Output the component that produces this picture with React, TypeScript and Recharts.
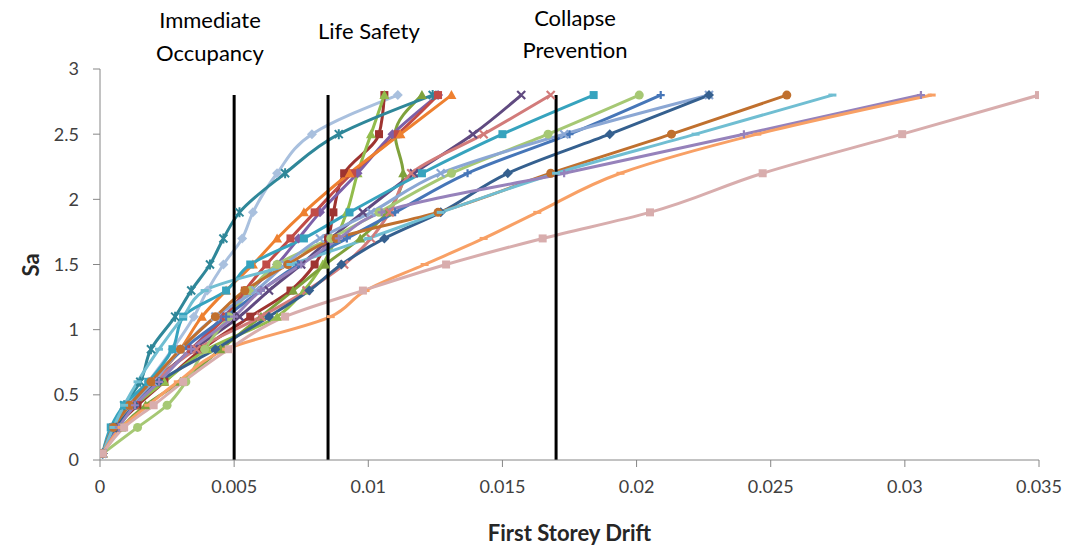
import React from 'react';
import { LineChart, Line, XAxis, YAxis, ReferenceLine } from 'recharts';

document.body.style.margin = '0';

// Sa levels used by every IDA run
const saLevels = [0.05, 0.25, 0.42, 0.6, 0.85, 1.1, 1.3, 1.5, 1.7, 1.9, 2.2, 2.5, 2.8];

// first storey drift of each run at the Sa levels above
const runA = [0.0001, 0.0006, 0.0011, 0.0018, 0.0027, 0.0035, 0.004, 0.0046, 0.0053, 0.0057, 0.0066, 0.0079, 0.0111];
const runB = [0.0001, 0.0006, 0.0014, 0.0024, 0.0038, 0.0056, 0.0071, 0.008, 0.0085, 0.0087, 0.0091, 0.0104, 0.0106];
const runC = [0.0001, 0.0005, 0.0013, 0.0024, 0.004, 0.0066, 0.0076, 0.0083, 0.0088, 0.0092, 0.0096, 0.0101, 0.0106];
const runD = [0.0001, 0.0008, 0.0017, 0.003, 0.0045, 0.006, 0.0072, 0.0084, 0.0097, 0.0107, 0.0113, 0.011, 0.012];
const runE = [0.0001, 0.0005, 0.0009, 0.0015, 0.0019, 0.0028, 0.0034, 0.0041, 0.0046, 0.0052, 0.0069, 0.0089, 0.0124];
const runF = [0.0001, 0.0006, 0.0012, 0.0021, 0.0034, 0.0046, 0.0056, 0.0066, 0.0074, 0.0082, 0.0096, 0.0109, 0.0126];
const runG = [0.0001, 0.0006, 0.0013, 0.0021, 0.0034, 0.0047, 0.0054, 0.0062, 0.0071, 0.008, 0.0094, 0.0111, 0.0126];
const runH = [0.0001, 0.0006, 0.0012, 0.002, 0.003, 0.0038, 0.0047, 0.0057, 0.0066, 0.0076, 0.0093, 0.0112, 0.0131];
const runI = [0.0001, 0.0006, 0.0012, 0.002, 0.0035, 0.0052, 0.0063, 0.0075, 0.0086, 0.0098, 0.0117, 0.0139, 0.0157];
const runJ = [0.0001, 0.0005, 0.0011, 0.002, 0.0036, 0.006, 0.0077, 0.0091, 0.0101, 0.0108, 0.0116, 0.0143, 0.0168];
const runK = [0.0001, 0.0004, 0.0009, 0.0018, 0.0027, 0.0031, 0.0047, 0.0056, 0.0076, 0.0093, 0.012, 0.015, 0.0184];
const runL = [0.0001, 0.0014, 0.0025, 0.0032, 0.0039, 0.0048, 0.0056, 0.0066, 0.0086, 0.0104, 0.0131, 0.0167, 0.0201];
const runM = [0.0001, 0.0005, 0.0011, 0.0019, 0.0031, 0.0047, 0.006, 0.0074, 0.0092, 0.011, 0.0137, 0.0175, 0.0209];
const runN = [0.0001, 0.0006, 0.0012, 0.002, 0.003, 0.0043, 0.0058, 0.0069, 0.0082, 0.0101, 0.0127, 0.0173, 0.0227];
const runO = [0.0001, 0.0006, 0.0013, 0.0022, 0.0043, 0.0063, 0.0078, 0.009, 0.0106, 0.0127, 0.0152, 0.019, 0.0227];
const runP = [0.0001, 0.0005, 0.0011, 0.0019, 0.003, 0.0043, 0.0054, 0.007, 0.0088, 0.0126, 0.0168, 0.0213, 0.0256];
const runQ = [0.0001, 0.0005, 0.0009, 0.0014, 0.0022, 0.0031, 0.0039, 0.0071, 0.01, 0.0127, 0.017, 0.0222, 0.0273];
const runR = [0.0001, 0.0007, 0.0013, 0.0022, 0.0034, 0.005, 0.006, 0.0075, 0.0089, 0.0105, 0.0173, 0.024, 0.0306];
const runS = [0.0001, 0.0008, 0.0018, 0.0029, 0.0047, 0.0086, 0.0099, 0.0121, 0.0143, 0.0163, 0.0194, 0.0245, 0.031];
const runT = [0.0001, 0.0009, 0.002, 0.0031, 0.0048, 0.0069, 0.0098, 0.0129, 0.0165, 0.0205, 0.0247, 0.0299, 0.035];

const xTicks = [0, 0.005, 0.01, 0.015, 0.02, 0.025, 0.03, 0.035];
const yTicks = [0, 0.5, 1, 1.5, 2, 2.5, 3];

// performance limits (drift)
const limits = [0.005, 0.0085, 0.017];

const runs = [
  { name: 'A', drift: runA, color: '#A9C0DE', marker: 'diamond' },
  { name: 'B', drift: runB, color: '#9E3430', marker: 'square' },
  { name: 'C', drift: runC, color: '#92BC4C', marker: 'triangle' },
  { name: 'D', drift: runD, color: '#7FA23C', marker: 'triangle' },
  { name: 'E', drift: runE, color: '#2F8799', marker: 'star' },
  { name: 'F', drift: runF, color: '#7D60A8', marker: 'diamond' },
  { name: 'G', drift: runG, color: '#C14B47', marker: 'square' },
  { name: 'H', drift: runH, color: '#EE8030', marker: 'triangle' },
  { name: 'I', drift: runI, color: '#604A80', marker: 'x' },
  { name: 'J', drift: runJ, color: '#D27B7A', marker: 'x' },
  { name: 'K', drift: runK, color: '#36A3BE', marker: 'square' },
  { name: 'L', drift: runL, color: '#A6C874', marker: 'circle' },
  { name: 'M', drift: runM, color: '#4676B8', marker: 'plus' },
  { name: 'N', drift: runN, color: '#8BA7D4', marker: 'x' },
  { name: 'O', drift: runO, color: '#35608F', marker: 'diamond' },
  { name: 'P', drift: runP, color: '#C0702E', marker: 'circle' },
  { name: 'Q', drift: runQ, color: '#70BED2', marker: 'dash' },
  { name: 'R', drift: runR, color: '#9682BB', marker: 'plus' },
  { name: 'S', drift: runS, color: '#F8A065', marker: 'dash' },
  { name: 'T', drift: runT, color: '#D8ADAD', marker: 'square' },
];

const FONT = 'Lato, "Open Sans", sans-serif';

function Marker({ cx, cy, shape, color }: { cx: number; cy: number; shape: string; color: string }) {
  if (cx == null || cy == null) return null;
  switch (shape) {
    case 'diamond':
      return <path d={`M${cx},${cy - 5}L${cx + 5},${cy}L${cx},${cy + 5}L${cx - 5},${cy}Z`} fill={color} />;
    case 'square':
      return <rect x={cx - 4} y={cy - 4} width={8} height={8} fill={color} />;
    case 'triangle':
      return <path d={`M${cx},${cy - 5}L${cx + 5},${cy + 4}L${cx - 5},${cy + 4}Z`} fill={color} />;
    case 'circle':
      return <circle cx={cx} cy={cy} r={4.5} fill={color} />;
    case 'x':
      return (
        <path d={`M${cx - 4},${cy - 4}L${cx + 4},${cy + 4}M${cx + 4},${cy - 4}L${cx - 4},${cy + 4}`} stroke={color} strokeWidth={2.2} />
      );
    case 'star':
      return (
        <path
          d={`M${cx - 4},${cy - 4}L${cx + 4},${cy + 4}M${cx + 4},${cy - 4}L${cx - 4},${cy + 4}M${cx},${cy - 5}L${cx},${cy + 5}`}
          stroke={color}
          strokeWidth={2}
        />
      );
    case 'plus':
      return <path d={`M${cx - 4},${cy}L${cx + 4},${cy}M${cx},${cy - 4}L${cx},${cy + 4}`} stroke={color} strokeWidth={2.2} />;
    case 'dash':
      return <path d={`M${cx - 4},${cy}L${cx + 4},${cy}`} stroke={color} strokeWidth={3} />;
    default:
      return null;
  }
}

export default function App() {
  const series = runs.map((r) => ({
    ...r,
    points: saLevels.map((sa, i) => ({ drift: r.drift[i], sa })),
  }));

  const text: React.CSSProperties = { position: 'absolute', fontFamily: FONT, color: '#000', whiteSpace: 'nowrap' };

  return (
    <div style={{ position: 'relative', width: 1070, height: 550, background: '#fff' }}>
      <LineChart width={1070} height={550} margin={{ top: 69, right: 31, left: 0, bottom: 0 }}>
        <XAxis
          type="number"
          dataKey="drift"
          domain={[0, 0.035]}
          ticks={xTicks}
          allowDataOverflow
          height={90}
          stroke="#868686"
          tickSize={7}
          tickMargin={13}
          tick={{ fill: '#404040', fontSize: 18, fontFamily: FONT }}
          tickFormatter={(v: number) => String(v)}
        />
        <YAxis
          type="number"
          dataKey="sa"
          domain={[0, 3]}
          ticks={yTicks}
          width={100}
          stroke="#868686"
          tickSize={7}
          tickMargin={14}
          tick={{ fill: '#404040', fontSize: 18, fontFamily: FONT }}
        />
        {series.map((s) => (
          <Line
            key={s.name}
            data={s.points}
            dataKey="sa"
            type="monotoneY"
            stroke={s.color}
            strokeWidth={3}
            isAnimationActive={false}
            activeDot={false}
            dot={(p: any) => <Marker key={`${s.name}-${p.index}`} cx={p.cx} cy={p.cy} shape={s.marker} color={s.color} />}
          />
        ))}
        {limits.map((d) => (
          <ReferenceLine
            key={d}
            segment={[
              { x: d, y: 0 },
              { x: d, y: 2.8 },
            ]}
            stroke="#000"
            strokeWidth={3}
          />
        ))}
      </LineChart>

      <div style={{ ...text, left: 150, top: 3, fontSize: 22, lineHeight: '33px', textAlign: 'center', width: 120 }}>
        Immediate
        <br />
        Occupancy
      </div>
      <div style={{ ...text, left: 318, top: 17, fontSize: 22, lineHeight: '28px' }}>Life Safety</div>
      <div style={{ ...text, left: 515, top: 2, fontSize: 22, lineHeight: '32px', textAlign: 'center', width: 120 }}>
        Collapse
        <br />
        Prevention
      </div>
      <div style={{ ...text, left: 0, top: 519, width: 1139, textAlign: 'center', fontSize: 22, fontWeight: 700, color: '#262626' }}>
        First Storey Drift
      </div>
      <div
        style={{
          ...text,
          left: 30,
          top: 265,
          fontSize: 22,
          fontWeight: 700,
          color: '#262626',
          transform: 'translate(-50%, -50%) rotate(-90deg)',
        }}
      >
        Sa
      </div>
    </div>
  );
}
